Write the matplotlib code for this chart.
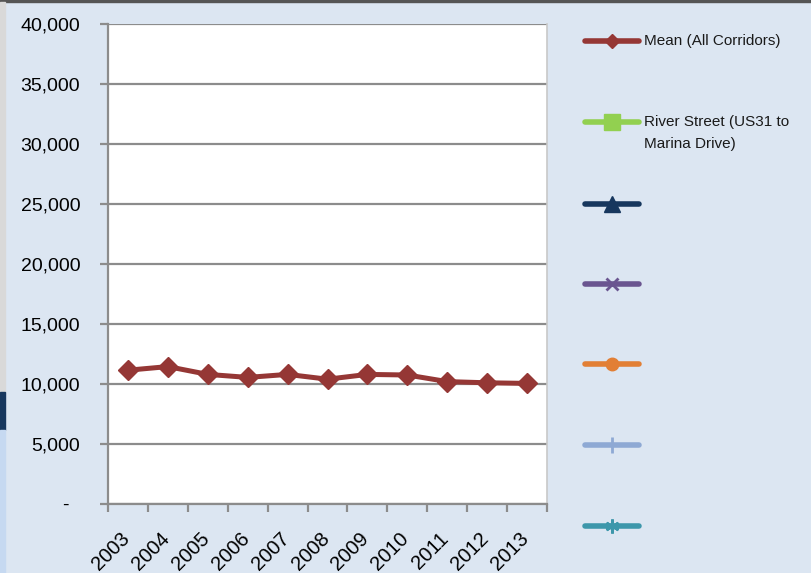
import matplotlib
matplotlib.use('Agg')
import matplotlib.pyplot as plt
import matplotlib.transforms as mtransforms
from matplotlib.lines import Line2D
from matplotlib.patches import Rectangle
from matplotlib.ticker import FuncFormatter

# ---- data ----
years = ['2003', '2004', '2005', '2006', '2007', '2008',
         '2009', '2010', '2011', '2012', '2013']
mean_all = [11150, 11450, 10800, 10550, 10800, 10400,
            10800, 10750, 10200, 10100, 10050]

legend_labels = ['Mean (All Corridors)', 'River Street (US31 to\nMarina Drive)',
                 '', '', '', '', '']
legend_colors = ['#953735', '#92d050', '#17375e', '#6a5590',
                 '#e27f35', '#8ea9d4', '#3d97ab']
legend_markers = ['D', 's', '^', 'x', 'o', '|', (6, 2, 0)]

BG = '#dce6f2'
W, H = 811, 573

plt.rcParams['font.family'] = ['Liberation Sans', 'DejaVu Sans']

fig = plt.figure(figsize=(W / 100, H / 100), dpi=100, facecolor=BG)


def fx(px):
    return px / W


def fy(py):
    return 1 - py / H


# plot area
ax = fig.add_axes([fx(108), fy(504), fx(547) - fx(108), fy(24) - fy(504)])
ax.set_facecolor('white')

x = list(range(len(years)))
ax.plot(x, mean_all, color='#953735', lw=3.6, marker='D', ms=10.5,
        solid_joinstyle='round', zorder=3)

ax.set_xlim(-0.5, len(years) - 0.5)
ax.set_ylim(0, 40000)
ax.set_yticks(range(0, 40001, 5000))
ax.yaxis.set_major_formatter(FuncFormatter(lambda v, p: '-  ' if v == 0 else f'{int(v):,}'))
ax.grid(axis='y', color='#8c8c8c', lw=1.6)
ax.set_axisbelow(True)

ax.set_xticks(x)
ax.set_xticklabels(years, rotation=45, ha='right', rotation_mode='anchor')
ax.set_xticks([i - 0.5 for i in range(len(years) + 1)], minor=True)
ax.tick_params(axis='x', which='major', length=0, pad=18, labelsize=14.5)
ax.tick_params(axis='x', which='minor', length=6, width=1.6, color='#8c8c8c')
ax.tick_params(axis='y', length=6, width=1.6, color='#8c8c8c', pad=14, labelsize=14)

# nudge the rotated year labels to the left, as in the original
shift = mtransforms.ScaledTranslation(-8 / 100, 0, fig.dpi_scale_trans)
for lbl in ax.get_xticklabels():
    lbl.set_transform(lbl.get_transform() + shift)

for s in ['left', 'bottom']:
    ax.spines[s].set_color('#8c8c8c')
    ax.spines[s].set_linewidth(1.6)
ax.spines['top'].set_visible(False)
ax.spines['right'].set_color('#c8c8c8')
ax.spines['right'].set_linewidth(1.2)

# legend (drawn by hand to follow the original spacing)
leg_y = [41, 122, 204, 284, 364, 445, 526]
leg_ms = {'D': 7, 's': 12, '^': 11, 'x': 8, 'o': 9, '|': 11}
for lab, col, mk, yy in zip(legend_labels, legend_colors, legend_markers, leg_y):
    mew = 2 if mk in ('x', '|', (6, 2, 0)) else 1
    ln = Line2D([fx(585), fx(612), fx(639)], [fy(yy)] * 3, transform=fig.transFigure,
                color=col, lw=4, solid_capstyle='round', marker=mk, markevery=[1],
                ms=leg_ms.get(mk, 10), mew=mew, mec=col, mfc=col)
    fig.lines.append(ln)
    if lab:
        multi = '\n' in lab
        fig.text(fx(644), fy(yy - 7) if multi else fy(yy), lab, fontsize=11,
                 color='#1a1a1a', ha='left', va='top' if multi else 'center',
                 linespacing=1.75, transform=fig.transFigure)

# page decorations
fig.patches.append(Rectangle((0, fy(2)), 1, fy(0) - fy(2), transform=fig.transFigure,
                             color='#555555', zorder=5))
fig.patches.append(Rectangle((0, fy(392)), fx(5), fy(2) - fy(392), transform=fig.transFigure,
                             color='#d9d9d9', zorder=5))
fig.patches.append(Rectangle((0, fy(430)), fx(5), fy(392) - fy(430), transform=fig.transFigure,
                             color='#17375e', zorder=5))
fig.patches.append(Rectangle((0, 0), fx(5), fy(430), transform=fig.transFigure,
                             color='#c6d9f1', zorder=5))

fig.savefig('out.png', dpi=100, facecolor=BG)
